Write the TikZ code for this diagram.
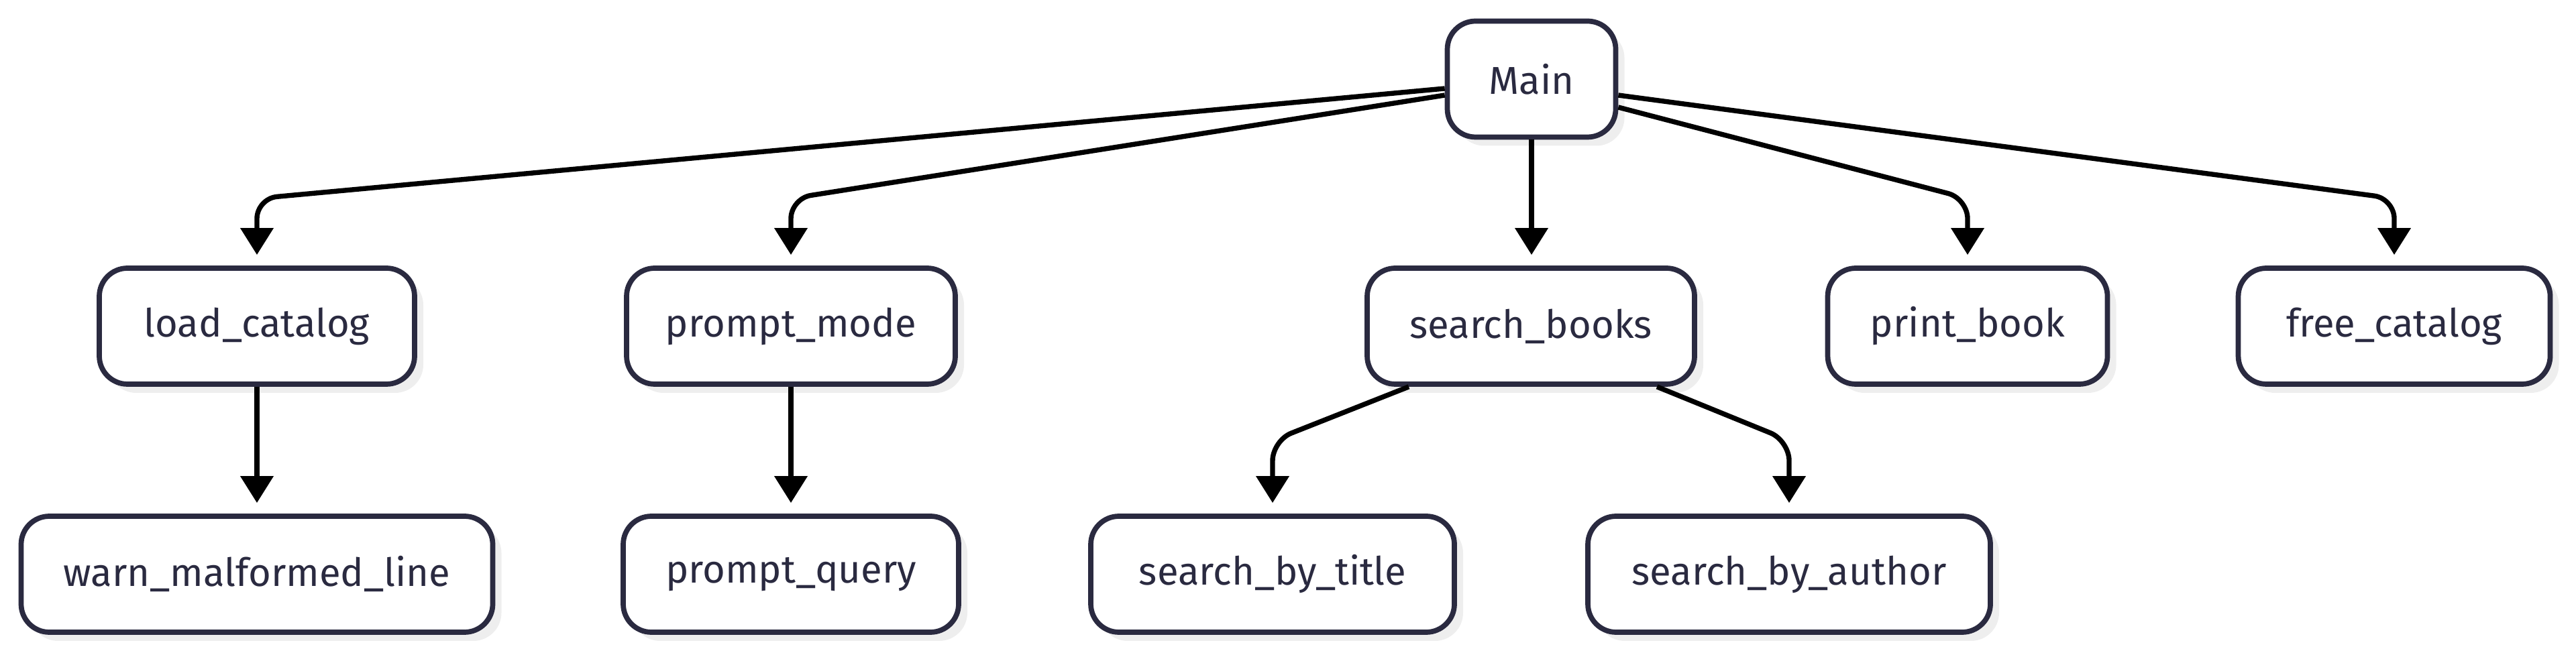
\documentclass[tikz,border=0pt]{standalone}
\usepackage{fontspec}
\setmainfont{Fira Sans}
\usetikzlibrary{positioning,arrows.meta,shadows,calc}
\definecolor{nodeink}{HTML}{2A2A40}
\definecolor{shadegray}{HTML}{EEEEEE}

\begin{document}
\begin{tikzpicture}[x=1cm,y=1cm,
  fn/.style={draw=nodeink,line width=2.2pt,fill=white,rounded corners=0.42cm,
    minimum height=1.73cm,text=nodeink,font=\fontsize{16.5}{20}\selectfont,
    drop shadow={shadow xshift=0.13cm,shadow yshift=-0.13cm,fill=shadegray,opacity=1}},
  call/.style={-{Triangle[length=0.4cm,width=0.48cm]},line width=2.1pt,
    rounded corners=0.3cm,shorten >=0.16cm}]
  \useasboundingbox (0,0) rectangle (38.4,-9.77);
  \node[fn,minimum width=2.51cm] (main) at (22.83,-1.18) {Main};
  \node[fn,minimum width=4.70cm] (load) at (3.83,-4.865) {load\_catalog};
  \node[fn,minimum width=4.90cm] (pmode) at (11.79,-4.865) {prompt\_mode};
  \node[fn,minimum width=4.88cm] (sbooks) at (22.82,-4.865) {search\_books};
  \node[fn,minimum width=4.17cm] (pbook) at (29.33,-4.865) {print\_book};
  \node[fn,minimum width=4.65cm] (fcat) at (35.69,-4.865) {free\_catalog};
  \node[fn,minimum width=7.03cm] (warn) at (3.83,-8.565) {warn\_malformed\_line};
  \node[fn,minimum width=5.00cm] (pquery) at (11.79,-8.565) {prompt\_query};
  \node[fn,minimum width=5.42cm] (bytitle) at (18.97,-8.565) {search\_by\_title};
  \node[fn,minimum width=6.00cm] (byauthor) at (26.67,-8.565) {search\_by\_author};

  \draw[call] ($(main.west)+(0,-0.14)$) -- ($(load.north)+(0,1.0)$) -- (load.north);
  \draw[call] ($(main.west)+(0,-0.24)$) -- ($(pmode.north)+(0,1.0)$) -- (pmode.north);
  \draw[call] (main.south) -- (main.south |- sbooks.north);
  \draw[call] ($(main.east)+(0,-0.42)$) -- ($(pbook.north)+(0,1.0)$) -- (pbook.north);
  \draw[call] ($(main.east)+(0,-0.24)$) -- ($(fcat.north)+(0,1.0)$) -- (fcat.north);
  \draw[call] (load) -- (warn);
  \draw[call] (pmode) -- (pquery);
  \draw[call] ($(sbooks.south)+(-1.82,0)$) -- ($(bytitle.north)+(0,1.09)$) -- (bytitle.north);
  \draw[call] ($(sbooks.south)+(1.88,0)$) -- ($(byauthor.north)+(0,1.09)$) -- (byauthor.north);
\end{tikzpicture}
\end{document}
